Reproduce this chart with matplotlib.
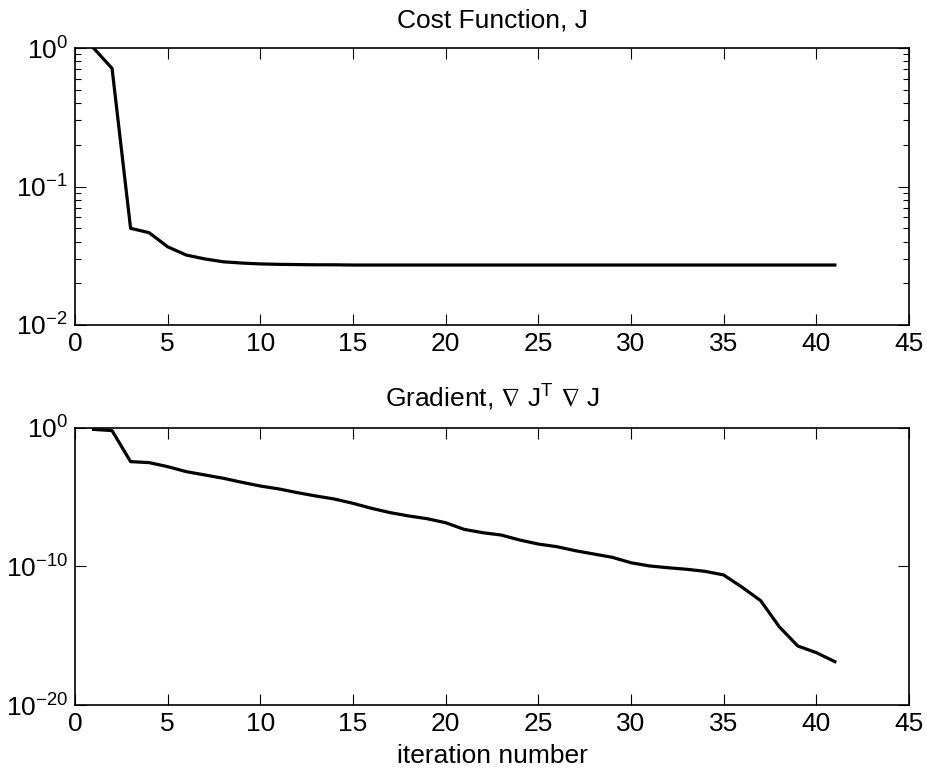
import matplotlib
matplotlib.use("Agg")
import matplotlib.pyplot as plt
from matplotlib.ticker import FixedLocator, FuncFormatter, LogLocator, NullLocator
import numpy as np

plt.rcParams['font.family'] = ['Liberation Sans', 'DejaVu Sans']
plt.rcParams['mathtext.fontset'] = 'custom'
plt.rcParams['mathtext.rm'] = 'Liberation Sans'
plt.rcParams['mathtext.it'] = 'Liberation Sans:italic'
plt.rcParams['mathtext.bf'] = 'Liberation Sans:bold'
plt.rcParams['mathtext.fallback'] = 'stixsans'

iterations = list(range(1, 42))
cost_J = [1.0, 0.713, 0.0499, 0.0464, 0.0367, 0.032, 0.030, 0.0286, 0.028, 0.0276,
          0.0274, 0.0273, 0.0272, 0.0272, 0.0271, 0.0271, 0.0271, 0.0271, 0.0271, 0.0271,
          0.0271, 0.0271, 0.0271, 0.0271, 0.0271, 0.0271, 0.0271, 0.0271, 0.0271, 0.0271,
          0.0271, 0.0271, 0.0271, 0.0271, 0.0271, 0.0271, 0.0271, 0.0271, 0.0271, 0.0271,
          0.0271]
grad_log10 = [-0.1, -0.19, -2.43, -2.5, -2.79, -3.15, -3.39, -3.63, -3.92, -4.19,
              -4.40, -4.67, -4.91, -5.13, -5.44, -5.80, -6.11, -6.35, -6.55, -6.84,
              -7.32, -7.56, -7.73, -8.09, -8.38, -8.57, -8.86, -9.10, -9.34, -9.73,
              -9.96, -10.09, -10.2, -10.35, -10.61, -11.50, -12.47, -14.35, -15.74, -16.22,
              -16.87]
grad = [10.0 ** v for v in grad_log10]

xticks = [0, 5, 10, 15, 20, 25, 30, 35, 40, 45]

FS = 19

fig = plt.figure(figsize=(9.28, 7.71), dpi=100)
ax1 = fig.add_axes([0.0808, 0.5785, 0.8987, 0.3592])
ax2 = fig.add_axes([0.0808, 0.0856, 0.8987, 0.3593])

def pow_fmt(v, pos):
    e = int(round(np.log10(v)))
    return r'$\mathregular{10^{%d}}$' % e

for ax in (ax1, ax2):
    ax.set_yscale('log')
    ax.set_xlim(0, 45)
    ax.set_xticks(xticks)
    ax.tick_params(direction='in', which='both', top=True, right=True, labelsize=FS, pad=5)
    ax.tick_params(which='major', length=8, width=0.8)
    ax.tick_params(which='minor', length=4, width=0.8)
    for s in ax.spines.values():
        s.set_linewidth(1.2)

ax1.plot(iterations, cost_J, color='black', lw=2.3, clip_on=True)
ax1.set_ylim(1e-2, 1e0)
ax1.yaxis.set_major_locator(FixedLocator([1e-2, 1e-1, 1e0]))
ax1.yaxis.set_minor_locator(LogLocator(base=10, subs=np.arange(2, 10)))
ax1.yaxis.set_major_formatter(FuncFormatter(pow_fmt))
ax1.yaxis.set_minor_formatter(FuncFormatter(lambda v, p: ''))
ax1.set_title('Cost Function, J', fontsize=FS, pad=15)

ax2.plot(iterations, grad, color='black', lw=2.3)
ax2.set_ylim(1e-20, 1e0)
ax2.yaxis.set_major_locator(FixedLocator([1e-20, 1e-10, 1e0]))
ax2.yaxis.set_minor_locator(NullLocator())
ax2.yaxis.set_major_formatter(FuncFormatter(pow_fmt))
ax2.set_title(r'Gradient, $\nabla$ J$^{\mathregular{T}}$ $\nabla$ J', fontsize=FS, pad=15)
ax2.set_xlabel('iteration number', fontsize=FS, labelpad=6)

fig.savefig('out.png', dpi=100)
